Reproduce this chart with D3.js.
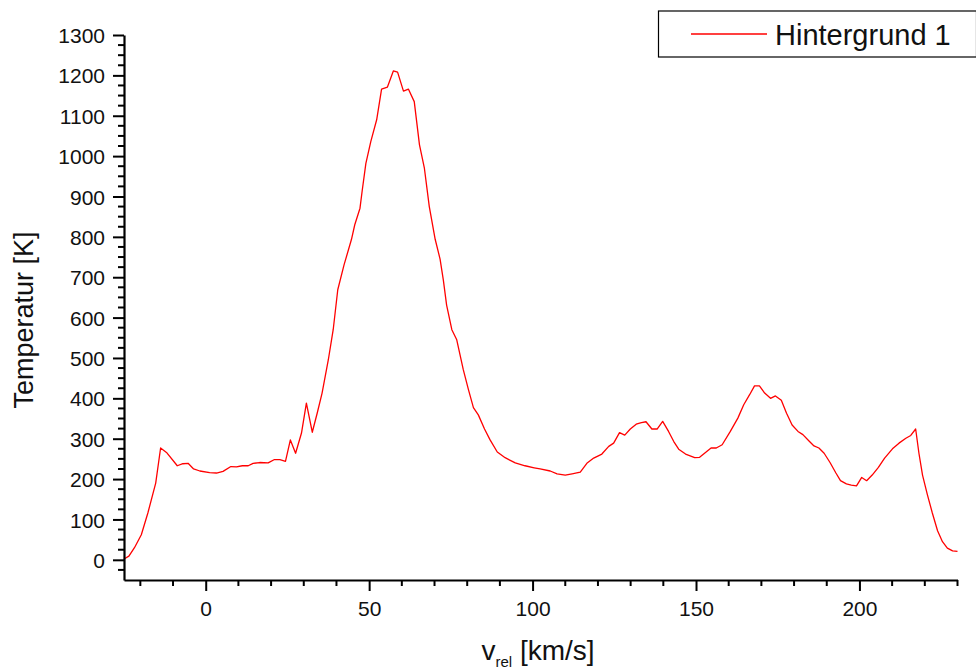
<!DOCTYPE html>
<html>
<head>
<meta charset="utf-8">
<script src="https://cdn.jsdelivr.net/npm/d3@7"></script>
<style>
  html, body { margin: 0; padding: 0; background: #fff; }
  svg { display: block; font-family: "Liberation Sans", Arial, sans-serif; }
</style>
</head>
<body>
<svg id="chart" width="976" height="671"></svg>
<script>
const vrel = [-25, -23.5, -21.8, -19.7, -17.7, -15.3, -13.8, -12, -8.7, -7, -5.4, -3.7, -1.8, 1.2, 3.3, 5.3, 7.7, 9.4, 11.2, 13, 14.5, 16.5, 19.1, 20.9, 22.7, 24.4, 25.9, 27.5, 29.3, 30.8, 32.6, 34.1, 35.6, 37.5, 39, 40.4, 42.3, 44.6, 45.6, 47.2, 47.9, 49, 50.5, 52.3, 53.8, 55.6, 57.4, 58.7, 60.5, 62, 63.8, 65.4, 66.9, 68.4, 70.2, 71.7, 72.7, 73.7, 75.3, 76.8, 78.8, 80.4, 81.9, 83.4, 85.3, 87, 89.2, 91.6, 94.7, 97.7, 100.5, 102.3, 105.4, 107.5, 110, 112.1, 114.6, 116.6, 118.7, 121.2, 123.3, 124.8, 126.6, 128.2, 129.9, 131.7, 133.3, 134.7, 136.5, 138.1, 139.8, 141.6, 143.2, 144.7, 146.8, 149.6, 151.1, 152.9, 154.6, 156.2, 158, 160.5, 162.8, 164.6, 166.4, 167.9, 169.4, 171, 172.8, 174.3, 176.1, 177.7, 179.4, 181.2, 182.7, 184.5, 186.1, 187.6, 189.2, 191, 192.8, 194.2, 196, 197.5, 199.1, 200.7, 202.2, 203.9, 205.8, 207.7, 210.1, 212.1, 214.2, 215.7, 217.2, 218.2, 219.3, 220.8, 222.3, 223.9, 225.4, 226.9, 228.5, 230];
const temp = [2, 9, 30, 62, 116, 190, 277, 266, 233, 238, 239, 225, 220, 216, 215, 219, 231, 230, 233, 233, 239, 241, 240, 248, 248, 244, 297, 264, 314, 388, 316, 363, 413, 495, 570, 669, 730, 794, 830, 871, 916, 982, 1036, 1090, 1166, 1171, 1211, 1208, 1161, 1166, 1135, 1028, 970, 875, 794, 745, 693, 631, 570, 545, 471, 421, 377, 359, 324, 297, 267, 253, 240, 233, 228, 225, 220, 213, 210, 213, 217, 239, 252, 262, 281, 289, 315, 309, 324, 336, 340, 342, 324, 324, 343, 318, 293, 274, 262, 253, 254, 266, 277, 277, 285, 318, 351, 384, 409, 431, 431, 413, 400, 406, 395, 363, 334, 318, 310, 295, 282, 277, 264, 241, 215, 196, 188, 185, 183, 204, 196, 210, 229, 252, 275, 289, 301, 308, 324, 264, 210, 161, 116, 72, 45, 29, 22, 21];
const xMajorTicks = [0, 50, 100, 150, 200];
const yMajorTicks = [0, 100, 200, 300, 400, 500, 600, 700, 800, 900, 1000, 1100, 1200, 1300];
const seriesName = "Hintergrund 1";
const xTitle = "v";
const xTitleSub = "rel";
const xTitleUnit = " [km/s]";
const yTitle = "Temperatur [K]";

const svg = d3.select("#chart");
const x = d3.scaleLinear().domain([-25, 230]).range([124, 957.5]);
const y = d3.scaleLinear().domain([-50, 1300]).range([580, 35]);

const xMinor = d3.range(-20, 231, 10).filter(v => v % 50 !== 0);
const yMinor = d3.range(-25, 1301, 25).filter(v => v % 100 !== 0);

// curve
const line = d3.line().x((d, i) => x(vrel[i])).y(d => y(d));
svg.append("path")
  .datum(temp)
  .attr("d", line)
  .attr("fill", "none")
  .attr("stroke", "#ff0000")
  .attr("stroke-width", 1.3)
  .attr("stroke-linejoin", "round");

// X axis
const gx = svg.append("g").attr("transform", `translate(0,${y(-50)})`);
gx.call(d3.axisBottom(x).tickValues(xMajorTicks).tickSize(11).tickPadding(10).tickSizeOuter(0).tickFormat(d3.format("d")));
gx.append("g").selectAll("line").data(xMinor).join("line")
  .attr("x1", d => x(d)).attr("x2", d => x(d)).attr("y1", 0).attr("y2", 6)
  .attr("stroke", "#000").attr("stroke-width", 2);

// Y axis
const gy = svg.append("g").attr("transform", `translate(${x(-25)},0)`);
gy.call(d3.axisLeft(y).tickValues(yMajorTicks).tickSize(11).tickPadding(8).tickSizeOuter(0).tickFormat(d3.format("d")));
gy.append("g").selectAll("line").data(yMinor).join("line")
  .attr("y1", d => y(d)).attr("y2", d => y(d)).attr("x1", 0).attr("x2", -6)
  .attr("stroke", "#000").attr("stroke-width", 2);

[gx, gy].forEach(g => {
  g.select(".domain").attr("stroke", "#000").attr("stroke-width", 2.2);
  g.selectAll(".tick line").attr("stroke", "#000").attr("stroke-width", 2);
  g.selectAll(".tick text").attr("fill", "#111").style("font-size", "21px")
    .style("font-family", '"Liberation Sans", Arial, sans-serif');
});
gx.selectAll(".tick text").attr("dy", "0.71em");
gy.selectAll(".tick text").attr("dy", "0.36em");

// axis titles
const xt = svg.append("text")
  .attr("x", 538).attr("y", 660)
  .attr("text-anchor", "middle")
  .attr("fill", "#111")
  .style("font-size", "28px");
xt.append("tspan").text(xTitle);
xt.append("tspan").text(xTitleSub).attr("dy", 7).style("font-size", "15px");
xt.append("tspan").text(xTitleUnit).attr("dy", -7);

svg.append("text")
  .attr("transform", "translate(33,320) rotate(-90)")
  .attr("text-anchor", "middle")
  .attr("fill", "#111")
  .style("font-size", "27px")
  .text(yTitle);

// legend
const lg = svg.append("g");
lg.append("rect").attr("x", 658.5).attr("y", 11).attr("width", 318).attr("height", 46)
  .attr("fill", "#fff").attr("stroke", "#000").attr("stroke-width", 1.2);
lg.append("line").attr("x1", 691).attr("x2", 767).attr("y1", 34).attr("y2", 34)
  .attr("stroke", "#ff0000").attr("stroke-width", 1.3);
lg.append("text").attr("x", 775).attr("y", 45).attr("fill", "#111")
  .style("font-size", "29px").text(seriesName);
</script>
</body>
</html>
